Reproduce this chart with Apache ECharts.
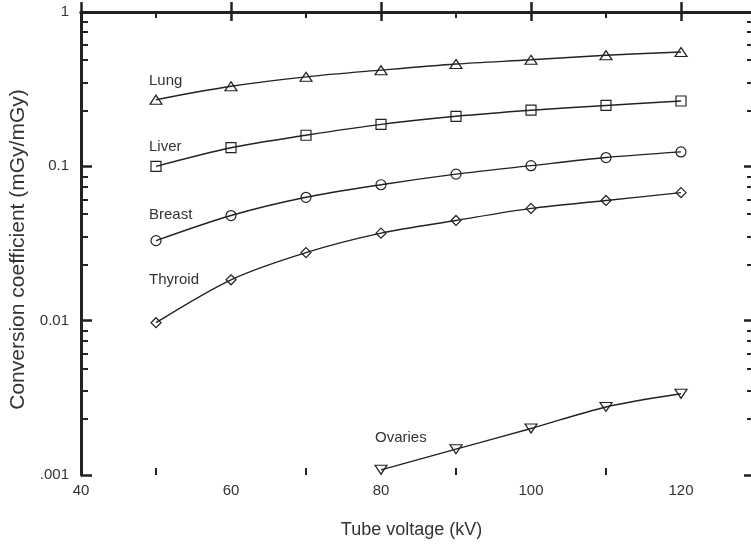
<!DOCTYPE html>
<html>
<head>
<meta charset="utf-8">
<script src="https://cdn.jsdelivr.net/npm/echarts@6/dist/echarts.min.js"></script>
<style>
  html, body { margin: 0; padding: 0; background: #fff; }
  #chart { width: 751px; height: 547px; }
</style>
</head>
<body>
<div id="chart"></div>
<script>
// 管电压 (kV)
const voltages = [50, 60, 70, 80, 90, 100, 110, 120];
// 各器官转换系数 (mGy/mGy)
const lung = [0.27, 0.33, 0.38, 0.42, 0.46, 0.49, 0.525, 0.55];
const liver = [0.100, 0.132, 0.159, 0.187, 0.211, 0.231, 0.248, 0.265];
const breast = [0.033, 0.048, 0.063, 0.076, 0.089, 0.101, 0.114, 0.124];
const thyroid = [0.0097, 0.0184, 0.0276, 0.0369, 0.0446, 0.0534, 0.0601, 0.0675];
const ovaries = [null, null, null, 0.00108, 0.00147, 0.0020, 0.00276, 0.00336];

const yTickLabels = [".001", "0.01", "0.1", "1"];
const xMinorTicks = [50, 70, 90, 110];
// minor ticks inside each decade, as drawn in the figure
const minorTickFactors = [2.3, 3.5, 4.9, 6.1, 7.4, 8.6];

const FONT = "'Liberation Sans', Arial, sans-serif";
const INK = "#222";
const TEXT = "#333";

let logMinor = [];
for (let n = -3; n < 0; n++) {
  minorTickFactors.forEach((f) => logMinor.push(Math.log10(f) + n));
}

function pairs(values) {
  let out = [];
  for (let i = 0; i < voltages.length; i++) {
    if (values[i] != null) out.push([voltages[i], values[i]]);
  }
  return out;
}

// 系列: 名称, 数据, 符号, 尺寸, 标签偏移
const seriesDefs = [
  { name: "Lung", data: lung, symbol: "triangle", size: [12, 9], rotate: 0, offset: [-7, -1] },
  { name: "Liver", data: liver, symbol: "rect", size: 10, rotate: 0, offset: [-7, -1] },
  { name: "Breast", data: breast, symbol: "circle", size: 10, rotate: 0, offset: [-7, -8] },
  { name: "Thyroid", data: thyroid, symbol: "diamond", size: [10, 10], rotate: 0, offset: [-7, -25] },
  { name: "Ovaries", data: ovaries, symbol: "triangle", size: [12, 9], rotate: 180, offset: [-6, -14] },
];

let list = [];
for (let i = 0; i < seriesDefs.length; i++) {
  const d = seriesDefs[i];
  let data = pairs(d.data).map((p, j) => {
    if (j === 0) {
      return {
        value: p,
        label: {
          show: true,
          formatter: d.name,
          position: "top",
          align: "left",
          offset: d.offset,
          color: TEXT,
          fontSize: 15,
          fontFamily: FONT,
        },
      };
    }
    return { value: p };
  });
  list.push({
    name: d.name,
    type: "line",
    xAxisIndex: 0,
    yAxisIndex: 0,
    smooth: 0.3,
    data: data,
    symbol: d.symbol,
    symbolSize: d.size,
    symbolRotate: d.rotate,
    showAllSymbol: true,
    lineStyle: { color: INK, width: 1.4 },
    itemStyle: { color: "rgba(255,255,255,0)", borderColor: INK, borderWidth: 1.2 },
    emphasis: { disabled: true },
    animation: false,
  });
}

const axisLine = { show: true, lineStyle: { color: INK, width: 3 } };

let myChart = echarts.init(document.getElementById("chart"));
let option = {
  animation: false,
  grid: { left: 81, width: 675, top: 12, bottom: 72, outerBoundsMode: "none", containLabel: false },
  xAxis: [
    {
      type: "value",
      position: "bottom",
      min: 40,
      max: 130,
      interval: 20,
      name: "Tube voltage (kV)",
      nameLocation: "middle",
      nameGap: 46,
      nameTextStyle: { color: TEXT, fontSize: 18, fontFamily: FONT, padding: [0, 14, 0, 0] },
      axisLine: axisLine,
      axisTick: { show: true, inside: true, length: 10, lineStyle: { color: INK, width: 2.5 } },
      axisLabel: { color: TEXT, fontSize: 15, fontFamily: FONT, margin: 8, showMaxLabel: false },
      splitLine: { show: false },
    },
    {
      type: "value",
      position: "top",
      min: 40,
      max: 130,
      interval: 20,
      axisLine: axisLine,
      axisTick: { show: true, inside: true, length: 9, lineStyle: { color: INK, width: 2.5 } },
      axisLabel: { show: false },
      splitLine: { show: false },
    },
    {
      type: "value",
      position: "bottom",
      min: 40,
      max: 130,
      axisLine: { show: false },
      axisTick: { show: true, inside: true, length: 7, customValues: xMinorTicks, lineStyle: { color: INK, width: 2 } },
      axisLabel: { show: false },
      splitLine: { show: false },
    },
    {
      type: "value",
      position: "top",
      min: 40,
      max: 130,
      axisLine: { show: false },
      axisTick: { show: true, inside: true, length: 6, customValues: xMinorTicks, lineStyle: { color: INK, width: 2 } },
      axisLabel: { show: false },
      splitLine: { show: false },
    },
  ],
  yAxis: [
    {
      type: "log",
      logBase: 10,
      position: "left",
      min: 0.001,
      max: 1,
      name: "Conversion coefficient (mGy/mGy)",
      nameLocation: "middle",
      nameGap: 46,
      nameTextStyle: { color: TEXT, fontSize: 21, fontFamily: FONT, padding: [0, 12, 0, 0] },
      axisLine: axisLine,
      axisTick: { show: true, inside: true, length: 11, lineStyle: { color: INK, width: 2.5 } },
      axisLabel: {
        color: TEXT,
        fontSize: 15,
        fontFamily: FONT,
        margin: 12,
        formatter: function (v) {
          return yTickLabels[Math.round(Math.log10(v)) + 3];
        },
      },
      splitLine: { show: false },
    },
    {
      type: "log",
      logBase: 10,
      position: "right",
      min: 0.001,
      max: 1,
      axisLine: axisLine,
      axisTick: { show: true, inside: true, length: 12, lineStyle: { color: INK, width: 2.5 } },
      axisLabel: { show: false },
      splitLine: { show: false },
    },
    {
      type: "value",
      position: "left",
      min: -3,
      max: 0,
      axisLine: { show: false },
      axisTick: { show: true, inside: true, length: 7, customValues: logMinor, lineStyle: { color: INK, width: 2 } },
      axisLabel: { show: false },
      splitLine: { show: false },
    },
    {
      type: "value",
      position: "right",
      min: -3,
      max: 0,
      axisLine: { show: false },
      axisTick: { show: true, inside: true, length: 9, customValues: logMinor, lineStyle: { color: INK, width: 2 } },
      axisLabel: { show: false },
      splitLine: { show: false },
    },
  ],
  series: list,
};
myChart.setOption(option);
</script>
</body>
</html>
